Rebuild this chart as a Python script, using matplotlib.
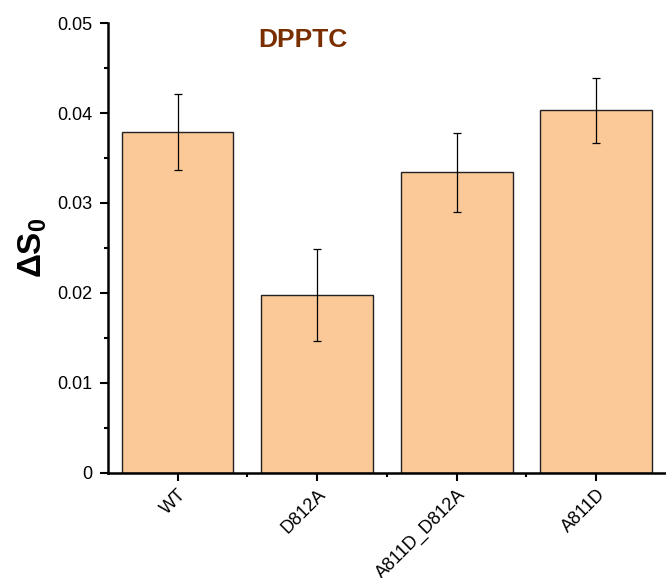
import matplotlib.pyplot as plt
from matplotlib.ticker import MultipleLocator, FixedLocator

plt.rcParams['font.family'] = ['Liberation Sans', 'DejaVu Sans']
plt.rcParams['mathtext.fontset'] = 'custom'
plt.rcParams['mathtext.rm'] = 'Liberation Sans'
plt.rcParams['mathtext.bf'] = 'Liberation Sans:bold'

samples = ['WT', 'D812A', 'A811D_D812A', 'A811D']
delta_s0 = [0.0379, 0.0198, 0.0334, 0.0403]
errors = [0.0042, 0.0051, 0.0044, 0.0036]
ytick_vals = [0, 0.01, 0.02, 0.03, 0.04, 0.05]
ytick_labels = ['0', '0.01', '0.02', '0.03', '0.04', '0.05']

fig = plt.figure(figsize=(6.66, 5.78), dpi=100)
ax = fig.add_axes([0.162, 0.182, 0.838, 0.778])

x = list(range(len(samples)))
ax.bar(x, delta_s0, width=0.8, color='#FBC998', edgecolor='#222222', linewidth=1.0,
       yerr=errors, capsize=3, error_kw={'elinewidth': 0.9, 'capthick': 0.9, 'ecolor': 'black'})

ax.set_xlim(-0.5, 3.5)
ax.set_ylim(0, 0.05)
ax.set_xticks(x)
ax.set_xticklabels(samples, rotation=45, ha='right', rotation_mode='anchor', fontsize=13)
ax.xaxis.set_minor_locator(FixedLocator([0.5, 1.5, 2.5]))
ax.set_yticks(ytick_vals)
ax.set_yticklabels(ytick_labels)
ax.yaxis.set_minor_locator(MultipleLocator(0.005))
ax.tick_params(axis='both', which='major', length=6, width=1.5, labelsize=13, direction='out')
ax.tick_params(axis='y', which='major', pad=5)
ax.tick_params(axis='both', which='minor', length=3, width=1.5, direction='out')

for s in ['top', 'right']:
    ax.spines[s].set_visible(False)
for s in ['left', 'bottom']:
    ax.spines[s].set_linewidth(1.8)

ax.set_ylabel('$\\mathbf{\\Delta S_0}$', fontsize=24, labelpad=6)
ax.text(0.35, 0.962, 'DPPTC', transform=ax.transAxes, fontsize=19, fontweight='bold',
        color='#7A2E00', ha='center', va='center')

fig.savefig('out.png', dpi=100)
